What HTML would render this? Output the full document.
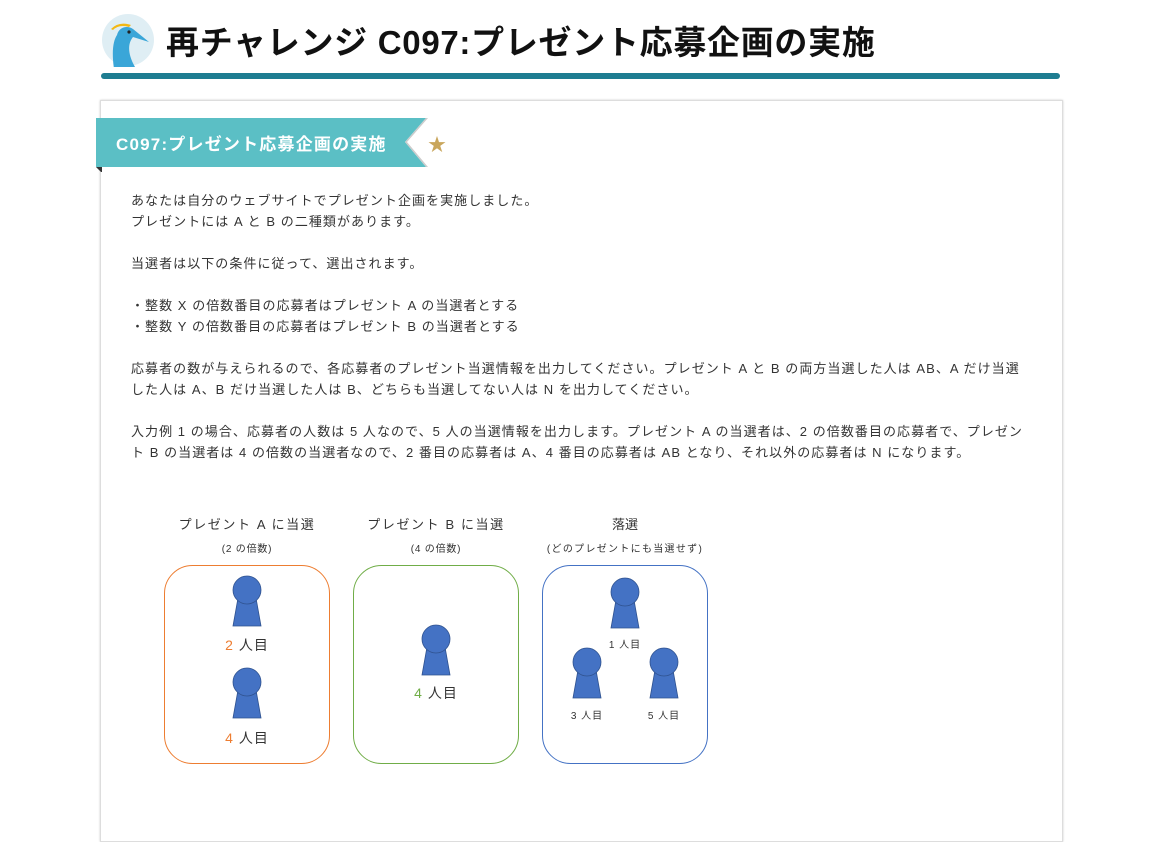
<!DOCTYPE html>
<html><head><meta charset="utf-8"><style>
body{margin:0;width:1167px;height:824px;background:#fff;position:relative;overflow:hidden;font-family:"Liberation Sans","Noto Sans CJK JP",sans-serif;color:#333}
.a{position:absolute}
.t{position:absolute;left:131px;font-size:13px;white-space:nowrap;line-height:21px;letter-spacing:1.05px}
.c{position:absolute;text-align:center;white-space:nowrap;transform:translateX(-50%)}
</style></head><body>
<svg class="a" style="left:101px;top:13px" width="54" height="54"><circle cx="27" cy="27" r="26" fill="#dfeef4"/><path d="M14 62 C10 40 12 28 16 22 C18 14 26 12 32 16 L48 29 L32 24 C27 30 26 40 34 54Z" fill="#3aa6d8"/><path d="M10 16 Q18 8 30 12 L28 14 Q18 11 12 17Z" fill="#f3b813"/><circle cx="28" cy="19" r="1.6" fill="#222"/></svg>
<div class="a" style="left:166px;top:16px;font-size:33px;font-weight:bold;color:#111;white-space:nowrap;letter-spacing:0.7px">再チャレンジ C097:プレゼント応募企画の実施</div>
<div class="a" style="left:101px;top:73px;width:959px;height:6px;border-radius:3px;background:#1e7d91"></div>
<div class="a" style="left:100px;top:100px;width:961px;height:740px;border:1px solid #ddd;box-shadow:0 0 2px #ccc"></div>
<svg class="a" style="left:94px;top:117px" width="340" height="55"><polygon points="2,1 332,1 311,25 332,50 2,50" fill="#5bbfc5"/><polygon points="311,25 332,50 334,50 313,25 334,1 332,1" fill="#ccc"/><polygon points="2,50 8,50 8,56" fill="#333"/></svg>
<div class="a" style="left:116px;top:130px;font-size:17px;font-weight:bold;color:#fff;white-space:nowrap;letter-spacing:1.2px">C097:プレゼント応募企画の実施</div>
<div class="a" style="left:428px;top:131px;font-size:18px;color:#c9a65c">★</div>
<div class="t" style="top:190px">あなたは自分のウェブサイトでプレゼント企画を実施しました。</div>
<div class="t" style="top:211px">プレゼントには A と B の二種類があります。</div>
<div class="t" style="top:253px">当選者は以下の条件に従って、選出されます。</div>
<div class="t" style="top:295px">・整数 X の倍数番目の応募者はプレゼント A の当選者とする</div>
<div class="t" style="top:316px">・整数 Y の倍数番目の応募者はプレゼント B の当選者とする</div>
<div class="t" style="top:358px">応募者の数が与えられるので、各応募者のプレゼント当選情報を出力してください。プレゼント A と B の両方当選した人は AB、A だけ当選</div>
<div class="t" style="top:379px">した人は A、B だけ当選した人は B、どちらも当選してない人は N を出力してください。</div>
<div class="t" style="top:421px">入力例 1 の場合、応募者の人数は 5 人なので、5 人の当選情報を出力します。プレゼント A の当選者は、2 の倍数番目の応募者で、プレゼン</div>
<div class="t" style="top:442px">ト B の当選者は 4 の倍数の当選者なので、2 番目の応募者は A、4 番目の応募者は AB となり、それ以外の応募者は N になります。</div>
<div class="c" style="left:247px;top:514px;font-size:13px;letter-spacing:1.6px">プレゼント A に当選</div>
<div class="c" style="left:436px;top:514px;font-size:13px;letter-spacing:1.6px">プレゼント B に当選</div>
<div class="c" style="left:625px;top:514px;font-size:13px">落選</div>
<div class="c" style="left:247px;top:540px;font-size:10px;letter-spacing:0.8px">(2 の倍数)</div>
<div class="c" style="left:436px;top:540px;font-size:10px;letter-spacing:0.8px">(4 の倍数)</div>
<div class="c" style="left:625px;top:540px;font-size:10px;letter-spacing:1.3px">(どのプレゼントにも当選せず)</div>
<svg class="a" style="left:0;top:0" width="1167" height="824">
<rect x="164.5" y="565.5" width="165" height="198" rx="28" fill="none" stroke="#ed7d31"/>
<rect x="353.5" y="565.5" width="165" height="198" rx="28" fill="none" stroke="#70ad47"/>
<rect x="542.5" y="565.5" width="165" height="198" rx="28" fill="none" stroke="#4472c4"/>
<g fill="#4472c4" stroke="#2f528f" stroke-width="0.8">
<g transform="translate(247,590)"><polygon points="-9,8 9,8 14,36 -14,36"/><circle r="14"/></g>
<g transform="translate(247,682)"><polygon points="-9,8 9,8 14,36 -14,36"/><circle r="14"/></g>
<g transform="translate(436,639)"><polygon points="-9,8 9,8 14,36 -14,36"/><circle r="14"/></g>
<g transform="translate(625,592)"><polygon points="-9,8 9,8 14,36 -14,36"/><circle r="14"/></g>
<g transform="translate(587,662)"><polygon points="-9,8 9,8 14,36 -14,36"/><circle r="14"/></g>
<g transform="translate(664,662)"><polygon points="-9,8 9,8 14,36 -14,36"/><circle r="14"/></g>
</g></svg>
<div class="c" style="left:247px;top:635px;font-size:14px;letter-spacing:1px"><span style="color:#ed7d31">2</span> 人目</div>
<div class="c" style="left:247px;top:728px;font-size:14px;letter-spacing:1px"><span style="color:#ed7d31">4</span> 人目</div>
<div class="c" style="left:436px;top:683px;font-size:14px;letter-spacing:1px"><span style="color:#70ad47">4</span> 人目</div>
<div class="c" style="left:625px;top:636px;font-size:10px;letter-spacing:1px">1 人目</div>
<div class="c" style="left:587px;top:707px;font-size:10px;letter-spacing:1px">3 人目</div>
<div class="c" style="left:664px;top:707px;font-size:10px;letter-spacing:1px">5 人目</div>
</body></html>
